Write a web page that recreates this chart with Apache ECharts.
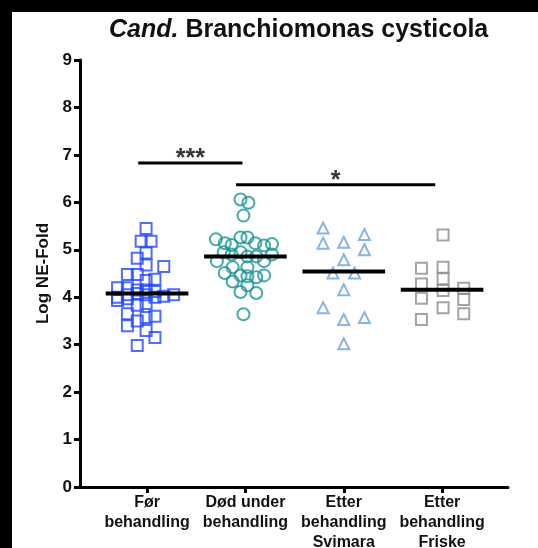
<!DOCTYPE html>
<html>
<head>
<meta charset="utf-8">
<script src="https://cdn.jsdelivr.net/npm/echarts@6/dist/echarts.min.js"></script>
<style>
  html, body { margin: 0; padding: 0; background: #fff; }
  #main { width: 538px; height: 548px; }
</style>
</head>
<body>
<div id="main"></div>
<script>
// kategorier (x-akse)
const categories = ['Før\nbehandling', 'Død under\nbehandling', 'Etter\nbehandling\nSvimara', 'Etter\nbehandling\nFriske']

// punkter per gruppe: [forskyvning fra kategorisenter, Log NE-Fold]
const forBehandling = [
  [-0.01, 5.45], [-0.06, 5.18], [0.04, 5.18], [-0.01, 4.93], [-0.10, 4.82], [-0.01, 4.68], [0.17, 4.65],
  [-0.20, 4.48], [-0.10, 4.48], [-0.01, 4.35], [0.08, 4.38], [-0.30, 4.20], [-0.20, 4.20], [-0.10, 4.15],
  [-0.01, 4.15], [0.08, 4.12], [-0.30, 4.00], [-0.20, 4.05], [-0.10, 4.08], [-0.01, 4.05], [0.08, 4.00],
  [0.17, 4.02], [0.27, 4.05], [-0.30, 3.93], [-0.20, 3.97], [-0.10, 3.83], [-0.01, 3.87], [-0.20, 3.65],
  [-0.10, 3.50], [-0.01, 3.57], [0.08, 3.60], [-0.20, 3.40], [-0.01, 3.30], [0.08, 3.15], [-0.10, 2.98]
]
const dodUnder = [
  [-0.05, 6.06], [0.03, 5.99], [-0.02, 5.72], [-0.30, 5.22], [-0.05, 5.26], [0.02, 5.26], [-0.21, 5.14],
  [-0.14, 5.10], [0.10, 5.14], [0.19, 5.09], [0.27, 5.12], [-0.29, 4.76], [-0.22, 4.95], [-0.14, 4.90],
  [-0.05, 4.95], [0.02, 4.86], [0.11, 4.86], [0.19, 4.76], [0.27, 4.90], [-0.13, 4.63], [0.02, 4.63],
  [-0.21, 4.51], [-0.05, 4.46], [0.02, 4.44], [0.11, 4.42], [0.19, 4.46], [-0.13, 4.33], [0.02, 4.25],
  [-0.05, 4.11], [0.11, 4.09], [-0.02, 3.64]
]
const etterSvimara = [
  [-0.21, 5.46], [0.21, 5.32], [-0.21, 5.14], [0, 5.16], [0.21, 5.00], [0, 4.79], [-0.11, 4.51],
  [0.11, 4.51], [0, 4.16], [-0.21, 3.78], [0, 3.53], [0.21, 3.57], [0, 3.02]
]
const etterFriske = [
  [0.01, 5.31], [-0.21, 4.61], [0.01, 4.63], [0.01, 4.39], [-0.21, 4.28], [0.01, 4.14], [0.22, 4.19],
  [-0.21, 3.98], [0.22, 3.95], [0.01, 3.78], [0.22, 3.65], [-0.21, 3.53]
]

// medianer
const medians = [4.08, 4.86, 4.54, 4.16]

// signifikansstreker
const sigFrom = [0.91, 1.905]
const sigTo = [1.97, 3.93]
const sigY = [6.83, 6.37]
const sigText = ['***', '*']

const font = 'Liberation Sans, Arial, sans-serif'

const groups = [
  { data: forBehandling, symbol: 'rect', size: 11, color: '#2248ff' },
  { data: dodUnder, symbol: 'circle', size: 12, color: '#1a9393' },
  { data: etterSvimara, symbol: 'triangle', size: 11, color: '#6aa3d8' },
  { data: etterFriske, symbol: 'rect', size: 11, color: '#8c8c8c' }
]

const series = []
groups.forEach((g, i) => {
  series.push({
    type: 'scatter',
    symbol: g.symbol,
    symbolSize: g.size,
    itemStyle: { color: 'rgba(0,0,0,0)', borderColor: g.color, borderWidth: 2 },
    data: g.data.map(p => [i + 1 + p[0], p[1]]),
    z: 2
  })
})
medians.forEach((m, i) => {
  series.push({
    type: 'line',
    symbol: 'none',
    lineStyle: { color: '#000', width: 4 },
    data: [[i + 1 - 0.42, m], [i + 1 + 0.42, m]],
    z: 3
  })
})
sigFrom.forEach((f, i) => {
  series.push({
    type: 'line',
    symbol: 'none',
    lineStyle: { color: '#000', width: 3 },
    data: [[f, sigY[i]], [sigTo[i], sigY[i]]],
    z: 3
  })
})
series.push({
  type: 'scatter',
  symbolSize: 0,
  data: sigFrom.map((f, i) => ({ value: [(f + sigTo[i]) / 2, sigY[i]], name: sigText[i] })),
  label: {
    show: true, position: 'top', distance: -9, formatter: p => p.name,
    color: '#000', fontFamily: font, fontWeight: 'bold', fontSize: 25
  },
  silent: true
})

const chart = echarts.init(document.getElementById('main'))
chart.setOption({
  backgroundColor: '#fff',
  animation: false,
  title: {
    text: '{i|Cand.} Branchiomonas cysticola',
    left: 104,
    top: 13,
    textStyle: {
      fontFamily: font, fontWeight: 'bold', fontSize: 25, color: '#111',
      rich: {
        i: { fontFamily: font, fontWeight: 'bold', fontStyle: 'italic', fontSize: 25, color: '#111' }
      }
    }
  },
  graphic: [
    { type: 'rect', left: 0, top: 0, shape: { width: 538, height: 12 }, style: { fill: '#000' } },
    { type: 'rect', left: 0, top: 0, shape: { width: 12, height: 548 }, style: { fill: '#000' } }
  ],
  grid: { left: 80, right: 30, top: 60, bottom: 61, containLabel: false, outerBoundsMode: 'none' },
  xAxis: {
    type: 'value',
    min: 0.318,
    max: 4.67,
    splitLine: { show: false },
    axisLine: { show: true, onZero: false, lineStyle: { color: '#000', width: 3 } },
    axisTick: { show: true, customValues: [1, 2, 3, 4], length: 6, lineStyle: { color: '#000', width: 3 } },
    axisLabel: {
      customValues: [1, 2, 3, 4],
      formatter: v => categories[Math.round(v) - 1],
      color: '#111', fontFamily: font, fontWeight: 'bold', fontSize: 16, lineHeight: 20, margin: 6
    }
  },
  yAxis: {
    type: 'value',
    min: 0,
    max: 9,
    interval: 1,
    name: 'Log NE-Fold',
    nameLocation: 'middle',
    nameGap: 27,
    nameTextStyle: { color: '#111', fontFamily: font, fontWeight: 'bold', fontSize: 17 },
    splitLine: { show: false },
    axisLine: { show: true, lineStyle: { color: '#000', width: 3 } },
    axisTick: { show: true, length: 6, lineStyle: { color: '#000', width: 3 } },
    axisLabel: { color: '#111', fontFamily: font, fontWeight: 'bold', fontSize: 17, margin: 8 }
  },
  series: series
})
</script>
</body>
</html>
